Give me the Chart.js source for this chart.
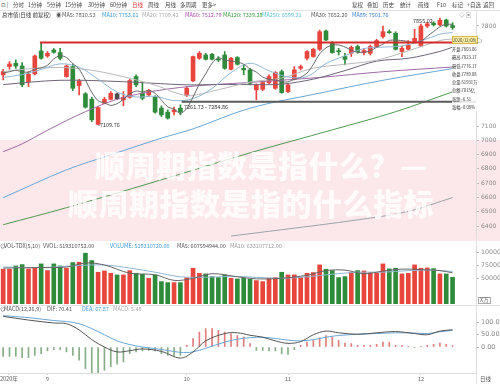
<!DOCTYPE html>
<html>
<head>
<meta charset="utf-8">
<script src="https://cdn.jsdelivr.net/npm/chart.js@4/dist/chart.umd.min.js"></script>
<style>
  body { margin: 0; width: 500px; height: 384px; overflow: hidden; background: #fff; position: relative;
         font-family: "Noto Sans CJK SC", "DejaVu Sans", sans-serif; }
  .t { position: absolute; white-space: nowrap; font-size: 5.5px; line-height: 7px; color: #444; z-index: 5; }
  canvas { position: absolute; left: 0; z-index: 2; }
  .hl { position: absolute; height: 1px; background: #e2e2e2; z-index: 1; }
  #band { position: absolute; left: 0; top: 140px; width: 500px; height: 101px; background: #fce7ea; z-index: 0; }
  .wm { position: absolute; z-index: 3; color: rgba(255,255,255,0.82); font-weight: 900; font-size: 30px;
        line-height: 32px; white-space: nowrap; letter-spacing: 0.5px; }
  #tip { position: absolute; left: 452px; top: 36px; width: 26px; z-index: 6; background: rgba(255,255,255,0.85); }
  #tip div { font-size: 4.2px; line-height: 8.3px; height: 8.3px; color: #333; white-space: nowrap; }
  #tip .d { background: #fff1a6; border: 1px solid #d8b64a; line-height: 6px; height: 6px; margin-bottom: 1px; }
</style>
</head>
<body>
<div id="band"></div>
<div class="wm" style="left:95px;top:148px">顺周期指数是指什么？—</div>
<div class="wm" style="left:68px;top:186px">顺周期指数是指的什么指标</div>

<div class="hl" style="left:0;top:10px;width:500px"></div>
<div class="hl" style="left:0;top:305px;width:500px"></div>
<div class="hl" style="left:476px;top:10px;width:1px;height:374px"></div>

<!-- toolbar -->
<div class="t" style="left:1px;top:2px">⊡ |</div>
<div class="t" style="left:13px;top:2px">分时</div>
<div class="t" style="left:28px;top:2px">1分钟</div>
<div class="t" style="left:47px;top:2px">5分钟</div>
<div class="t" style="left:65px;top:2px">15分钟</div>
<div class="t" style="left:88px;top:2px">30分钟</div>
<div class="t" style="left:110px;top:2px">60分钟</div>
<div class="t" style="left:132px;top:2px;color:#e03a3a">日线</div>
<div class="t" style="left:148px;top:2px">周线</div>
<div class="t" style="left:165px;top:2px">月线</div>
<div class="t" style="left:180px;top:2px">多周期</div>
<div class="t" style="left:202px;top:2px">更多&gt;</div>
<div class="t" style="left:352px;top:2px">复权</div>
<div class="t" style="left:367px;top:2px">叠加</div>
<div class="t" style="left:383px;top:2px">历史</div>
<div class="t" style="left:400px;top:2px">统计</div>
<div class="t" style="left:418px;top:2px">画线</div>
<div class="t" style="left:437px;top:2px">F10</div>
<div class="t" style="left:452px;top:2px">标记</div>
<div class="t" style="left:467px;top:2px">+自选</div>
<div class="t" style="left:483px;top:2px">返回</div>

<!-- price legend -->
<div class="t" style="left:2px;top:12px;color:#333">总市值(日线 前复权)</div>
<div class="t" style="left:56px;top:12px;color:#555">◉</div>
<div class="t" style="left:62px;top:12px;color:#555">MA5: 7810.53</div>
<div class="t" style="left:102px;top:12px;color:#3d9ad8">MA10: 7753.61</div>
<div class="t" style="left:142px;top:12px;color:#aaa">MA20: 7709.42</div>
<div class="t" style="left:185px;top:12px;color:#a64ca6">MA60: 7512.79</div>
<div class="t" style="left:223px;top:12px;color:#3a9a3a">MA120: 7339.28</div>
<div class="t" style="left:262px;top:12px;color:#5bc0de">MA250: 6599.31</div>
<div class="t" style="left:311px;top:12px;color:#555">MA30: 7652.20</div>
<div class="t" style="left:352px;top:12px;color:#3a7fd0">MA89: 7501.76</div>
<div class="t" style="left:459px;top:12px;color:#888">◇ ▣</div>

<!-- price marks -->
<div class="t" style="left:413px;top:18px;color:#333">7855.02</div>
<div class="t" style="left:98px;top:122px;color:#333">-7109.76</div>
<div class="t" style="left:184px;top:104px;color:#333">7261.73 - 7284.86</div>

<div id="tip">
  <div class="d">2020/12/08(二)</div>
  <div>开盘:7803.06</div>
  <div>最高:7823.17</div>
  <div>最低:7776.17</div>
  <div>收盘:7789.08</div>
  <div>总量:51931万</div>
  <div>总额:7015亿</div>
  <div>涨跌:-6.51</div>
  <div>涨幅:-0.08%</div>
</div>

<!-- volume legend -->
<div class="t" style="left:0px;top:243px;color:#555">⊙</div>
<div class="t" style="left:4px;top:243px;color:#555">VOL-TDX(5,10)</div>
<div class="t" style="left:43px;top:243px;color:#555">VVOL: 519310752.00</div>
<div class="t" style="left:110px;top:243px;color:#3d9ad8">VOLUME: 519310720.00</div>
<div class="t" style="left:177px;top:243px;color:#555">MA5: 607594944.00</div>
<div class="t" style="left:230px;top:243px;color:#999">MA10: 633107712.00</div>
<div class="t" style="left:478px;top:297px;color:#666;border:1px solid #aaa;line-height:5px;padding:0 1px">X万</div>

<!-- macd legend -->
<div class="t" style="left:0px;top:306px;color:#555">⊙</div>
<div class="t" style="left:4px;top:306px;color:#555">MACD(12,26,9)</div>
<div class="t" style="left:47px;top:306px;color:#555">DIF: 70.41</div>
<div class="t" style="left:82px;top:306px;color:#3d9ad8">DEA: 67.87</div>
<div class="t" style="left:113px;top:306px;color:#aaa">MACD: 5.48</div>
<div class="t" style="left:480px;top:376px;color:#555">日线</div>

<canvas id="price" width="500" height="222" style="top:16px"></canvas>
<canvas id="vol" width="500" height="58" style="top:246px"></canvas>
<canvas id="macd" width="500" height="70" style="top:314px"></canvas>

<script>
// ── DATA ───────────────────────────────────────────────────────────────
const dates = [
  '2020-08-21','2020-08-24','2020-08-25','2020-08-26','2020-08-27','2020-08-28','2020-08-31',
  '2020-09-01','2020-09-02','2020-09-03','2020-09-04','2020-09-07','2020-09-08','2020-09-09','2020-09-10','2020-09-11',
  '2020-09-14','2020-09-15','2020-09-16','2020-09-17','2020-09-18','2020-09-21','2020-09-22','2020-09-23','2020-09-24','2020-09-25',
  '2020-09-28','2020-09-29','2020-09-30',
  '2020-10-09','2020-10-12','2020-10-13','2020-10-14','2020-10-15','2020-10-16','2020-10-19','2020-10-20','2020-10-21','2020-10-22','2020-10-23',
  '2020-10-26','2020-10-27','2020-10-28','2020-10-29','2020-10-30',
  '2020-11-02','2020-11-03','2020-11-04','2020-11-05','2020-11-06','2020-11-09','2020-11-10','2020-11-11','2020-11-12','2020-11-13',
  '2020-11-16','2020-11-17','2020-11-18','2020-11-19','2020-11-20','2020-11-23','2020-11-24','2020-11-25','2020-11-26','2020-11-27','2020-11-30',
  '2020-12-01','2020-12-02','2020-12-03','2020-12-04','2020-12-07','2020-12-08'
];

const opens = [7458,7516,7539,7520,7411,7465,7625,7590,7632,7614, 7446,7516,7383,7325,7287,7112,7259,7287,7325,7283,
  7301,7446,7329,7318,7301,7225,7197,7199,7225,7313, 7416,7574,7597,7602,7567,7597,7497,7579,7504,7493,
  7353,7357,7404,7364,7481,7341,7427,7504,7574,7586, 7637,7765,7679,7625,7586,7609,7656,7614,7609,7656,
  7726,7760,7749,7621,7637,7684,7660,7800,7820,7808, 7842,7803.06];
const highs = [7497,7551,7562,7544,7481,7597,7684,7621,7642,7644, 7527,7534,7427,7334,7301,7236,7301,7341,7330,7341,
  7427,7458,7399,7357,7311,7241,7213,7232,7248,7376, 7590,7621,7609,7609,7586,7621,7581,7586,7527,7504,
  7395,7411,7458,7481,7493,7395,7516,7527,7628,7644, 7772,7772,7691,7644,7609,7660,7667,7644,7667,7707,
  7800,7772,7760,7660,7698,7777,7814,7825,7830,7855.02, 7848,7823.17];
const lows = [7423,7497,7504,7376,7376,7458,7567,7581,7609,7562, 7441,7348,7318,7225,7131,7109.76,7255,7283,7285,7241,
  7294,7376,7283,7306,7190,7166,7148,7178,7178,7306, 7411,7567,7562,7562,7551,7497,7493,7527,7458,7388,
  7283,7348,7395,7357,7329,7334,7423,7493,7562,7581, 7628,7698,7609,7597,7527,7586,7609,7597,7597,7651,
  7714,7749,7632,7586,7632,7679,7656,7790,7800,7802, 7792,7776.17];
const closes = [7481,7534,7520,7388,7462,7590,7574,7609,7616,7574, 7520,7364,7416,7232,7143,7229,7287,7329,7290,7301,
  7418,7388,7294,7348,7197,7178,7155,7213,7199,7364, 7586,7609,7567,7567,7562,7504,7574,7532,7493,7399,
  7388,7404,7446,7474,7334,7388,7493,7516,7621,7637, 7760,7702,7614,7620,7567,7651,7621,7628,7656,7698,
  7760,7753,7637,7644,7667,7714,7800,7815,7808,7840, 7800,7789.08];
const darkCandles = [18];

// moving averages ([index, value])
const ma5 = [7470,7480,7490,7480,7477,7499,7507,7525,7570,7593, 7579,7537,7498,7421,7335,7277,7261,7244,7256,7287,
  7325,7345,7338,7350,7329,7281,7234,7218,7188,7222, 7303,7394,7465,7539,7578,7562,7555,7548,7533,7500,
  7477,7443,7426,7422,7409,7409,7427,7441,7470,7531, 7605,7647,7667,7667,7653,7631,7615,7617,7625,7651,
  7673,7699,7701,7698,7692,7683,7692,7728,7761,7795, 7813,7811];
const ma10 = [[0,7440],[3,7460],[6,7495],[9,7535],[12,7511],[15,7428],[18,7338],[21,7303],[24,7308],[27,7278],
  [30,7292],[33,7363],[36,7474],[39,7539],[42,7487],[45,7443],[48,7446],[51,7537],[54,7592],[57,7642],
  [60,7652],[63,7661],[66,7695],[69,7743],[71,7754]];
const ma20 = [[0,7480],[4,7500],[9,7510],[14,7490],[19,7445],[24,7386],[29,7315],[34,7354],[39,7408],[44,7436],
  [49,7505],[54,7532],[59,7561],[64,7626],[69,7698],[71,7709]];
const ma30 = [[0,7390],[9,7420],[19,7410],[29,7388],[34,7391],[39,7390],[44,7393],[49,7428],[54,7488],[59,7554],
  [64,7574],[69,7622],[71,7652]];
const ma60 = [[0,6920],[3,6975],[7,7070],[13,7200],[19,7300],[28,7370],[39,7405],[50,7440],[60,7480],[71,7513]];
const ma89 = [[0,6598],[10,6793],[17,6898],[25,7015],[30,7080],[39,7225],[50,7330],[60,7420],[71,7502]];
const ma120 = [[0,6409],[10,6528],[24,6710],[39,6912],[52,7073],[62,7200],[71,7339]];
const ma250 = [[36,6330],[44,6374],[56,6443],[64,6502],[71,6599]];

const priceTicks = [6400,6500,6600,6700,6800,6900,7000,7100,7800];
const resistLine = [[5.8,7684],[74.7,7684]];
const supportLine = [[28.2,7270],[74.7,7270]];

// volume, in 万
const volumes = [67770,67770,74200,76800,68350,69660,78120,65100,78120,74200, 69660,80720,81380,98950,84630,61850,64450,59890,56640,56640,
  65100,59890,57940,50130,56640,43620,41670,41670,41670,51430, 69660,59890,58590,53380,51430,56640,50130,48830,50130,48180,
  45570,43620,50130,51430,61850,56640,56640,51430,59890,61200, 76170,67770,65100,51430,53380,61850,65100,64450,61200,59890,
  78120,68350,69660,58590,59890,76170,69660,70300,68980,58590, 58590,51931];
const volMa5 = [[0,70000],[5,71000],[10,72000],[13,80000],[16,76000],[20,60000],[24,57000],[27,46000],[30,50000],[33,59000],
  [37,53000],[40,49000],[44,50000],[48,56000],[51,65000],[54,66000],[57,59000],[60,64000],[63,68000],[66,67000],[69,65000],[71,60759]];
const volMa10 = [[0,72000],[6,71000],[12,75000],[16,76000],[20,70000],[24,62000],[28,53000],[32,52000],[36,54000],[40,52000],
  [44,50000],[48,53000],[52,58000],[56,62000],[60,62000],[64,65000],[68,66000],[71,63311]];
const volTicks = [50000,75000,100000];

// MACD
const macdBars = [-38,-38,-38,-43,-43,-34,-27,-16,-11,-11, -20,-34,-54,-88,-108,-106,-95,-81,-70,-61,
  -27,-20,-16,-14,-16,-27,-34,-38,-34,7, 34,61,75,75,68,61,54,47,41,14,
  -14,-14,-16,-16,-27,-30,-11,7,20,27, 38,47,41,27,16,14,7,7,7,11,
  20,20,7,7,3,-3,3,7,11,16, 11,5.48];
const dif = [[0,125],[4,110],[8,98],[10,95],[12,70],[14,30],[16,0],[18,-20],[20,-15],[22,-8],[25,-18],[28,-45],[30,-20],
  [32,25],[35,55],[37,58],[39,48],[41,40],[43,25],[45,15],[47,22],[49,50],[51,65],[53,58],[56,52],[59,58],[62,63],
  [65,55],[67,50],[69,65],[71,70.41]];
const dea = [[0,128],[4,120],[8,108],[10,104],[12,95],[14,75],[16,50],[18,25],[20,10],[22,0],[25,-10],[28,-22],[30,-20],
  [32,-5],[35,20],[37,32],[39,38],[41,40],[43,35],[45,28],[47,25],[49,30],[51,40],[53,47],[56,52],[59,55],[62,58],
  [65,57],[67,55],[69,62],[71,67.87]];
const macdTicks = [0,50,100];
const monthTicks = [[0.9,'2020年'],[7,'9'],[29,'10'],[45,'11'],[66,'12']];

// ── HELPERS ────────────────────────────────────────────────────────────
const RED = '#e8453c', GREEN = '#2e8b3a', DARK = '#4d4d4d';
const candleColor = i => darkCandles.includes(i) ? DARK : (closes[i] >= opens[i] ? RED : GREEN);
const pts = arr => arr.map(([x, y]) => ({ x, y }));
const XMIN = -0.5, XMAX = 74.7;

function line(data, color, width, extra) {
  return Object.assign({ type: 'line', data, borderColor: color, borderWidth: width || 1,
    pointRadius: 0, tension: 0.35, fill: false }, extra || {});
}

function yAxis(min, max, ticks, fmt, size) {
  return {
    position: 'right', min, max,
    afterBuildTicks: s => { s.ticks = ticks.map(v => ({ value: v })); },
    afterFit: s => { s.width = 24; s.paddingTop = 0; s.paddingBottom = 0; },
    ticks: { color: '#888', font: { size: size || 6, family: 'DejaVu Sans' }, padding: 2, callback: fmt },
    grid: { drawOnChartArea: false, tickLength: 3, color: '#bbb' },
    border: { color: '#ddd' },
  };
}

const xHidden = { type: 'linear', min: XMIN, max: XMAX, display: false, offset: false, grid: { offset: false } };

const common = {
  responsive: false, animation: false, events: [],
  layout: { padding: 0 },
  plugins: { legend: { display: false }, tooltip: { enabled: false } },
};

// ── PRICE PANEL ────────────────────────────────────────────────────────
new Chart(document.getElementById('price'), {
  type: 'bar',
  data: {
    datasets: [
      line(pts(resistLine), '#d62b2b', 2, { tension: 0 }),
      line(pts(supportLine), '#5a5a5a', 2, { tension: 0 }),
      line(ma5.map((y, x) => ({ x, y })), '#666', 1, { tension: 0.25 }),
      line(pts(ma10), '#8fb6d4', 1),
      line(pts(ma20), '#b9b9b9', 1),
      line(pts(ma30), '#6e6478', 1),
      line(pts(ma60), '#a06aa6', 1),
      line(pts(ma89), '#6aa6d6', 1),
      line(pts(ma120), '#4f9a4f', 1),
      line(pts(ma250), '#9aa5a8', 1),
      {
        data: opens.map((o, i) => ({ x: i, y: [o, closes[i]] })),
        backgroundColor: opens.map((_, i) => candleColor(i)),
        barThickness: 4, grouped: false, minBarLength: 1,
      },
      {
        data: lows.map((l, i) => ({ x: i, y: [l, highs[i]] })),
        backgroundColor: opens.map((_, i) => candleColor(i)),
        barThickness: 1, grouped: false,
      },
    ],
  },
  options: Object.assign({}, common, {
    scales: { x: xHidden, y: yAxis(6316, 7870, priceTicks, v => String(v), 6) },
  }),
});

// ── VOLUME PANEL ───────────────────────────────────────────────────────
new Chart(document.getElementById('vol'), {
  type: 'bar',
  data: {
    datasets: [
      line(pts(volMa5), '#666', 1),
      line(pts(volMa10), '#8fb6d4', 1),
      {
        data: volumes.map((v, i) => ({ x: i, y: v })),
        backgroundColor: volumes.map((_, i) => darkCandles.includes(i) ? GREEN : candleColor(i)),
        barThickness: 4, grouped: false,
      },
    ],
  },
  options: Object.assign({}, common, {
    scales: { x: xHidden, y: yAxis(0, 113000, volTicks, v => String(v), 6.3) },
  }),
});

// ── MACD PANEL ─────────────────────────────────────────────────────────
new Chart(document.getElementById('macd'), {
  type: 'bar',
  data: {
    datasets: [
      line(pts(dif), '#555', 1),
      line(pts(dea), '#6aa6d6', 1),
      {
        data: macdBars.map((v, i) => ({ x: i, y: v })),
        backgroundColor: macdBars.map(v => v >= 0 ? '#e07c7c' : '#86ad86'),
        barThickness: 1, grouped: false,
      },
    ],
  },
  options: Object.assign({}, common, {
    scales: {
      x: {
        type: 'linear', min: XMIN, max: XMAX, position: 'bottom', offset: false,
        afterBuildTicks: s => { s.ticks = monthTicks.map(([v]) => ({ value: v })); },
        afterFit: s => { s.height = 11; s.paddingLeft = 0; s.paddingRight = 0; },
        ticks: {
          color: '#666', font: { size: 5.5, family: 'Noto Sans CJK SC' }, padding: 1, maxRotation: 0, autoSkip: false,
          callback: (v, i) => monthTicks[i] ? monthTicks[i][1] : '',
        },
        grid: { drawOnChartArea: false, tickLength: 2, color: '#ccc', offset: false },
        border: { color: '#ddd' },
      },
      y: yAxis(-106, 134.7, macdTicks, v => v === 100 ? '100.0' : v.toFixed(2), 6.5),
    },
  }),
});
</script>
</body>
</html>
